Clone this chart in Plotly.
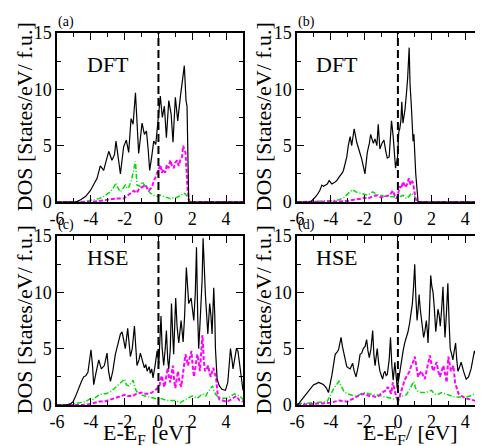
import plotly.graph_objects as go

# ---------------- data (E in eV, DOS in States/eV/f.u.) ----------------
a_total = [(-6,0),(-4.9,0),(-4.6,0.2),(-4.3,0.5),(-4.03,1.0),(-3.8,1.6),(-3.63,2.1),(-3.44,3.2),(-3.24,2.8),(-3.1,3.6),(-2.94,4.5),(-2.75,3.7),(-2.6,4.2),(-2.51,5.4),(-2.38,3.8),(-2.25,2.5),(-2.06,4.9),(-1.9,5.5),(-1.76,4.4),(-1.62,7.4),(-1.5,6.9),(-1.36,9.7),(-1.17,4.3),(-0.97,7.0),(-0.83,6.0),(-0.71,6.3),(-0.6,4.5),(-0.52,2.8),(-0.4,4.0),(-0.28,5.4),(-0.16,5.1),(-0.04,7.2),(0.11,9.4),(0.23,7.5),(0.35,8.5),(0.47,5.7),(0.61,9.0),(0.75,7.8),(0.86,5.3),(1.0,9.3),(1.14,7.2),(1.3,9.4),(1.46,11.6),(1.53,12.1),(1.63,9.0),(1.69,8.5),(1.79,0),(5,0)]
a_dd = [(-6,0),(-4.0,0),(-3.5,0.1),(-3.0,0.2),(-2.5,0.3),(-2.06,0.3),(-1.8,0.6),(-1.6,0.8),(-1.46,1.0),(-1.3,0.8),(-1.17,1.1),(-1.0,1.3),(-0.77,1.5),(-0.58,1.0),(-0.4,1.3),(-0.28,1.8),(-0.08,2.5),(0.11,3.3),(0.2,2.6),(0.31,2.9),(0.4,2.6),(0.5,3.3),(0.6,3.0),(0.7,3.7),(0.8,3.2),(0.9,3.0),(1.0,3.5),(1.1,3.7),(1.2,3.2),(1.3,3.8),(1.4,4.0),(1.46,5.0),(1.53,4.6),(1.6,4.4),(1.67,2.5),(1.73,1.0),(1.83,0),(5,0)]
a_dc = [(-6,0),(-4.5,0),(-4.2,0.1),(-3.8,0.2),(-3.5,0.3),(-3.24,0.5),(-3.0,0.7),(-2.84,0.9),(-2.65,1.3),(-2.5,1.7),(-2.38,1.2),(-2.25,0.9),(-2.1,1.2),(-1.96,1.5),(-1.85,1.2),(-1.76,1.3),(-1.6,1.9),(-1.5,2.5),(-1.36,3.6),(-1.27,1.5),(-1.1,1.4),(-0.97,1.8),(-0.85,1.5),(-0.77,1.3),(-0.6,1.0),(-0.48,0.8),(-0.3,0.6),(-0.08,0.5),(0.1,0.6),(0.3,0.5),(0.5,0.4),(0.7,0.3),(0.9,0.4),(1.1,0.4),(1.3,0.6),(1.5,0.8),(1.6,0.7),(1.7,0.5),(1.79,0),(5,0)]

b_total = [(-6,0),(-5.2,0),(-5.0,0.3),(-4.82,0.6),(-4.65,1.0),(-4.52,1.5),(-4.42,1.4),(-4.32,1.5),(-4.2,1.6),(-4.09,1.9),(-3.93,1.6),(-3.8,1.7),(-3.63,1.9),(-3.5,2.2),(-3.44,2.3),(-3.3,2.6),(-3.24,2.8),(-3.04,4.0),(-2.95,5.0),(-2.84,5.8),(-2.75,5.0),(-2.6,6.5),(-2.45,5.3),(-2.3,4.6),(-2.15,3.8),(-1.96,2.5),(-1.82,4.4),(-1.7,5.2),(-1.62,6.0),(-1.5,5.4),(-1.46,5.2),(-1.36,5.6),(-1.25,5.0),(-1.17,6.9),(-1.07,4.7),(-0.95,5.2),(-0.83,5.5),(-0.72,4.5),(-0.63,3.9),(-0.52,4.0),(-0.38,7.2),(-0.28,5.8),(-0.2,4.0),(-0.14,3.0),(-0.02,4.0),(0.05,6.2),(0.11,6.5),(0.18,7.3),(0.23,8.9),(0.3,7.0),(0.35,7.5),(0.42,8.2),(0.5,9.5),(0.58,11.0),(0.67,13.7),(0.72,10.5),(0.8,8.5),(0.9,5.4),(0.95,6.0),(1.06,2.5),(1.2,0),(5,0)]
b_dd = [(-6,0),(-4.5,0),(-3.5,0.05),(-3.0,0.1),(-2.5,0.2),(-2.2,0.3),(-2.0,0.4),(-1.8,0.3),(-1.5,0.5),(-1.3,0.6),(-1.0,0.4),(-0.8,0.5),(-0.5,0.6),(-0.4,0.8),(-0.3,1.0),(-0.2,0.6),(-0.1,0.3),(0.0,0.6),(0.1,1.4),(0.2,1.2),(0.3,1.8),(0.45,1.3),(0.55,1.6),(0.65,2.1),(0.75,1.5),(0.85,1.8),(0.9,1.7),(1.05,0.3),(1.15,0),(5,0)]
b_dc = [(-6,0),(-5.2,0),(-4.5,0.1),(-4.0,0.1),(-3.5,0.2),(-3.2,0.4),(-3.0,0.7),(-2.85,0.9),(-2.7,1.1),(-2.5,0.9),(-2.3,0.8),(-2.0,0.7),(-1.8,0.6),(-1.6,0.8),(-1.5,0.9),(-1.3,0.7),(-1.0,0.6),(-0.8,0.5),(-0.5,0.5),(-0.2,0.4),(0.0,0.4),(0.15,0.5),(0.3,0.6),(0.5,0.3),(0.65,0.5),(0.8,0.8),(0.9,0.6),(1.0,0.5),(1.15,0),(5,0)]

c_total = [(-6,0),(-5.5,0),(-5.21,0.1),(-5.05,0.3),(-4.92,0.7),(-4.72,1.5),(-4.55,2.1),(-4.42,2.5),(-4.3,2.6),(-4.17,2.9),(-3.99,4.9),(-3.9,3.5),(-3.83,1.8),(-3.7,2.8),(-3.53,4.0),(-3.38,3.2),(-3.2,3.5),(-3.04,4.6),(-2.95,3.0),(-2.84,2.1),(-2.7,3.0),(-2.55,4.5),(-2.4,5.5),(-2.25,6.3),(-2.15,6.5),(-2.05,5.8),(-1.96,5.0),(-1.82,6.8),(-1.66,4.3),(-1.55,5.0),(-1.42,7.0),(-1.27,3.5),(-1.15,4.0),(-1.07,4.6),(-0.95,3.8),(-0.83,3.3),(-0.75,3.6),(-0.67,3.0),(-0.55,3.4),(-0.48,2.8),(-0.4,3.2),(-0.32,2.4),(-0.2,3.5),(-0.08,4.8),(0.02,3.6),(0.08,5.5),(0.15,7.9),(0.22,5.0),(0.31,3.5),(0.4,5.0),(0.47,6.6),(0.55,4.0),(0.61,3.2),(0.7,5.0),(0.77,9.0),(0.85,6.0),(0.9,4.5),(1.02,9.5),(1.1,7.0),(1.2,5.5),(1.34,7.5),(1.46,5.6),(1.55,8.0),(1.65,12.2),(1.72,10.5),(1.79,9.0),(1.93,9.5),(2.0,8.5),(2.09,7.5),(2.18,10.0),(2.25,14.0),(2.32,8.0),(2.38,5.0),(2.45,7.0),(2.52,9.0),(2.58,11.0),(2.64,14.8),(2.7,12.0),(2.78,9.7),(2.85,8.0),(2.92,6.3),(3.03,9.0),(3.1,8.0),(3.17,6.3),(3.27,10.4),(3.33,8.0),(3.37,5.0),(3.47,2.3),(3.6,1.7),(3.75,1.4),(3.96,1.3),(4.1,2.0),(4.2,3.5),(4.26,5.0),(4.35,4.0),(4.41,3.2),(4.5,4.0),(4.61,5.0),(4.7,4.8),(4.81,3.5),(4.9,2.5),(5.0,1.3)]
c_dd = [(-6,0),(-4.5,0),(-4.0,0.1),(-3.5,0.3),(-3.2,0.3),(-3.0,0.4),(-2.7,0.5),(-2.5,0.6),(-2.2,0.8),(-2.0,0.9),(-1.8,0.8),(-1.5,0.8),(-1.3,1.0),(-1.0,1.1),(-0.8,1.0),(-0.5,1.0),(-0.3,1.2),(-0.2,1.3),(0.05,1.6),(0.12,2.2),(0.2,2.6),(0.28,2.0),(0.35,1.6),(0.45,2.4),(0.55,3.3),(0.62,2.5),(0.7,2.0),(0.78,2.8),(0.85,3.5),(0.93,2.2),(1.0,1.5),(1.08,2.3),(1.15,3.0),(1.25,2.0),(1.35,1.6),(1.45,2.8),(1.6,4.5),(1.68,4.0),(1.75,3.5),(1.85,4.2),(1.95,4.8),(2.02,3.5),(2.1,2.5),(2.2,3.5),(2.3,4.5),(2.38,3.8),(2.45,3.0),(2.52,4.5),(2.6,6.2),(2.68,4.0),(2.75,3.0),(2.85,3.2),(2.95,3.5),(3.02,2.8),(3.1,2.5),(3.18,3.0),(3.25,3.3),(3.32,2.8),(3.4,2.5),(3.5,1.0),(3.6,0.5),(3.8,0.4),(4.0,0.3),(4.2,0.4),(4.3,0.5),(4.45,0.7),(4.6,0.8),(4.7,0.6),(4.8,0.4),(5.0,0.3)]
c_dc = [(-6,0),(-5.3,0),(-5.0,0.1),(-4.6,0.2),(-4.3,0.3),(-4.0,0.6),(-3.85,0.5),(-3.7,0.7),(-3.5,0.9),(-3.3,1.0),(-3.1,1.0),(-2.8,1.2),(-2.65,1.4),(-2.5,1.6),(-2.35,1.8),(-2.1,2.1),(-2.0,2.3),(-1.9,1.8),(-1.75,1.7),(-1.6,2.0),(-1.5,2.2),(-1.4,1.6),(-1.3,1.2),(-1.15,1.1),(-1.0,0.9),(-0.8,0.8),(-0.5,0.7),(-0.3,0.6),(0.0,0.5),(0.1,0.6),(0.3,0.5),(0.5,0.4),(0.7,0.4),(1.0,0.4),(1.15,0.3),(1.3,0.2),(1.5,0.4),(1.7,0.6),(1.85,0.7),(2.0,0.8),(2.15,0.7),(2.3,0.6),(2.45,0.8),(2.6,1.0),(2.7,0.9),(2.8,0.8),(2.9,1.1),(3.0,1.3),(3.1,1.4),(3.2,1.7),(3.3,1.2),(3.4,0.9),(3.55,0.7),(3.7,0.6),(4.0,0.6),(4.2,0.7),(4.4,0.9),(4.5,1.0),(4.65,0.9),(4.8,0.8),(5.0,0.5)]

d_total = [(-6,0),(-5.9,0.1),(-5.75,0.4),(-5.6,0.7),(-5.45,1.0),(-5.31,1.3),(-5.15,1.6),(-5.01,1.8),(-4.85,1.9),(-4.72,2.0),(-4.55,1.9),(-4.42,1.8),(-4.25,1.5),(-4.13,1.1),(-3.93,2.6),(-3.83,3.6),(-3.73,4.5),(-3.62,4.7),(-3.53,4.9),(-3.45,5.5),(-3.38,6.0),(-3.3,5.2),(-3.2,4.6),(-3.1,3.9),(-3.04,3.4),(-2.95,3.3),(-2.84,3.2),(-2.75,3.5),(-2.69,3.7),(-2.6,3.0),(-2.49,2.5),(-2.35,3.5),(-2.25,4.5),(-2.15,4.6),(-2.06,5.0),(-1.95,5.2),(-1.86,5.8),(-1.78,4.8),(-1.7,4.2),(-1.6,5.0),(-1.5,6.6),(-1.43,4.5),(-1.36,3.5),(-1.3,4.2),(-1.23,5.0),(-1.15,3.8),(-1.07,3.0),(-0.98,2.6),(-0.91,2.3),(-0.84,2.8),(-0.77,3.0),(-0.7,2.6),(-0.63,2.7),(-0.52,4.0),(-0.44,6.0),(-0.36,3.5),(-0.28,2.2),(-0.18,3.8),(-0.1,2.5),(-0.04,1.5),(0.04,2.2),(0.11,3.0),(0.2,3.8),(0.31,4.8),(0.4,5.5),(0.5,6.0),(0.6,6.5),(0.7,7.3),(0.78,8.0),(0.86,9.0),(0.93,10.5),(1.0,12.5),(1.07,9.5),(1.14,7.5),(1.2,8.5),(1.26,9.8),(1.33,8.5),(1.4,7.5),(1.47,6.8),(1.53,6.0),(1.6,6.5),(1.69,7.5),(1.75,6.5),(1.79,5.5),(1.87,8.0),(1.95,11.5),(2.02,10.5),(2.09,10.0),(2.17,8.5),(2.25,6.5),(2.32,7.5),(2.38,8.5),(2.45,8.0),(2.52,7.0),(2.6,8.5),(2.68,10.5),(2.74,8.0),(2.8,6.0),(2.88,8.0),(2.97,10.8),(3.04,7.5),(3.11,5.0),(3.2,4.5),(3.27,4.0),(3.35,4.8),(3.43,5.5),(3.5,4.0),(3.57,3.0),(3.65,3.3),(3.76,3.8),(3.9,3.0),(4.06,2.3),(4.2,2.5),(4.35,3.2),(4.45,4.0),(4.55,4.8),(4.62,4.5),(4.69,4.2),(4.77,3.8),(4.85,3.0),(4.92,2.5),(5.0,2.0)]
d_dd = [(-6,0),(-5.5,0.05),(-5.0,0.1),(-4.5,0.15),(-4.0,0.2),(-3.75,0.3),(-3.5,0.4),(-3.25,0.35),(-3.0,0.3),(-2.75,0.5),(-2.5,0.7),(-2.25,0.9),(-2.0,1.0),(-1.85,0.9),(-1.7,0.8),(-1.5,0.8),(-1.3,0.7),(-1.15,0.8),(-1.0,1.0),(-0.85,1.2),(-0.7,1.3),(-0.6,1.6),(-0.5,1.3),(-0.4,1.0),(-0.3,2.0),(-0.2,1.2),(-0.1,0.7),(0.05,0.5),(0.15,1.0),(0.3,1.8),(0.4,2.2),(0.5,2.5),(0.6,2.8),(0.7,3.0),(0.8,3.5),(0.9,3.8),(1.0,4.3),(1.1,3.3),(1.2,2.5),(1.3,2.8),(1.4,3.0),(1.5,2.6),(1.6,2.3),(1.7,3.0),(1.8,3.8),(1.9,4.4),(2.0,3.6),(2.1,3.0),(2.2,3.4),(2.3,3.8),(2.4,3.0),(2.5,2.5),(2.6,3.0),(2.7,3.5),(2.8,2.8),(2.9,2.0),(3.0,4.3),(3.08,3.5),(3.15,3.0),(3.25,3.3),(3.3,3.5),(3.4,2.0),(3.5,1.5),(3.6,1.0),(3.8,0.8),(4.0,0.6),(4.3,0.5),(4.5,0.4),(4.8,0.3),(5.0,0.2)]
d_dc = [(-6,0.1),(-5.5,0.15),(-5.0,0.2),(-4.6,0.25),(-4.2,0.3),(-4.05,0.8),(-3.9,1.3),(-3.8,1.5),(-3.65,1.8),(-3.5,2.1),(-3.35,1.6),(-3.2,1.2),(-3.0,1.0),(-2.8,0.9),(-2.6,0.8),(-2.4,0.8),(-2.2,1.0),(-2.0,1.1),(-1.8,1.0),(-1.5,0.9),(-1.3,0.9),(-1.0,0.8),(-0.8,0.8),(-0.5,0.7),(-0.3,0.6),(-0.1,0.5),(0.1,0.7),(0.3,0.8),(0.5,0.9),(0.7,1.4),(0.85,1.8),(0.95,2.1),(1.05,1.5),(1.2,1.2),(1.4,1.1),(1.6,1.1),(1.8,1.2),(2.0,1.3),(2.15,1.0),(2.3,0.9),(2.45,1.0),(2.6,1.1),(2.8,1.0),(3.0,0.9),(3.2,0.8),(3.4,0.7),(3.7,0.7),(4.0,0.7),(4.3,0.8),(4.6,1.0),(4.8,0.8),(5.0,0.6)]

panel_labels = ["(a)", "(b)", "(c)", "(d)"]
method_labels = ["DFT", "DFT", "HSE", "HSE"]
x_titles = ["E-E<sub>F</sub> [eV]", "E-E<sub>F</sub>/ [eV]"]
y_title = "DOS [States/eV/ f.u.]"
x_tick_vals = [-6, -4, -2, 0, 2, 4]
x_tick_text = ["-6", "-4", "-2", "0", "2", "4"]
x_minor_vals = [-5, -3, -1, 1, 3, 5]
y_tick_vals = [0, 5, 10, 15]
y_tick_text = ["0", "5", "10", "15"]
y_minor_vals = [2.5, 7.5, 12.5]
x_range = [-6, 5]
y_range = [0, 15]
fermi_level = 0.0

panels = [(a_total, a_dd, a_dc), (b_total, b_dd, b_dc), (c_total, c_dd, c_dc), (d_total, d_dd, d_dc)]

# ---------------- layout geometry ----------------
# page pixel positions are converted to figure coords; the page body has an 8px margin
OFF = 8
W, H = 475, 438
FONT = "Liberation Serif"


def px(x):
    return (x - OFF) / W


def py(y):
    return 1 - (y - OFF) / H


xdom = [[px(57), px(243)], [px(297), px(482)]]
ydom = [[py(202), py(33)], [py(405), py(236)]]

fig = go.Figure()

styles = [
    dict(color="black", width=1.2),
    dict(color="#ff00ff", width=2, dash="4px,2px"),
    dict(color="#00dd00", width=1.5, dash="5px,2px,1px,2px"),
]

layout_axes = {}
for i, series in enumerate(panels):
    n = i + 1
    xa = "x" if n == 1 else f"x{n}"
    ya = "y" if n == 1 else f"y{n}"
    for pts, st in zip(series[::-1], styles[::-1]):
        fig.add_trace(go.Scatter(
            x=[p[0] for p in pts], y=[p[1] for p in pts],
            mode="lines", line=st, xaxis=xa, yaxis=ya,
            showlegend=False, hoverinfo="skip"))
    # Fermi level dashed line
    fig.add_trace(go.Scatter(
        x=[fermi_level, fermi_level], y=y_range, mode="lines",
        line=dict(color="black", width=2, dash="8px,4px"),
        xaxis=xa, yaxis=ya, showlegend=False, hoverinfo="skip"))

    col, row = i % 2, i // 2
    common = dict(
        ticks="inside", ticklen=7, tickwidth=1.3, tickcolor="black",
        showline=True, linewidth=1.5, linecolor="black", mirror="ticks",
        showgrid=False, zeroline=False, automargin=False,
        tickfont=dict(family=FONT, size=18, color="black"),
    )
    layout_axes["xaxis" if n == 1 else f"xaxis{n}"] = dict(
        domain=xdom[col], anchor=ya, range=x_range,
        tickmode="array", tickvals=x_tick_vals, ticktext=x_tick_text,
        minor=dict(tickmode="array", tickvals=x_minor_vals, ticks="inside",
                   ticklen=4, tickwidth=1.2, tickcolor="black"),
        **common)
    layout_axes["yaxis" if n == 1 else f"yaxis{n}"] = dict(
        domain=ydom[row], anchor=xa, range=y_range,
        tickmode="array", tickvals=y_tick_vals, ticktext=y_tick_text,
        minor=dict(tickmode="array", tickvals=y_minor_vals, ticks="inside",
                   ticklen=4, tickwidth=1.2, tickcolor="black"),
        **common)

annotations = []
label_x = [56, 296]
label_y = [22, 225]
method_x = [108, 337]
method_y = [64, 257]
ytitle_x = [24, 263]
xtitle_x = [147, 410]
for i in range(4):
    col, row = i % 2, i // 2
    annotations.append(dict(
        text=panel_labels[i], xref="paper", yref="paper",
        x=px(label_x[col]), y=py(label_y[row]), xanchor="left", yanchor="middle",
        showarrow=False, font=dict(family=FONT, size=14, color="black")))
    annotations.append(dict(
        text=method_labels[i], xref="paper", yref="paper",
        x=px(method_x[col]), y=py(method_y[row]), xanchor="center", yanchor="middle",
        showarrow=False, font=dict(family=FONT, size=22, color="black")))
    annotations.append(dict(
        text=y_title, xref="paper", yref="paper", textangle=-90,
        x=px(ytitle_x[col]), y=(ydom[row][0] + ydom[row][1]) / 2,
        xanchor="center", yanchor="middle",
        showarrow=False, font=dict(family=FONT, size=22, color="black")))
for col in range(2):
    annotations.append(dict(
        text=x_titles[col], xref="paper", yref="paper",
        x=px(xtitle_x[col]), y=py(434), xanchor="center", yanchor="middle",
        showarrow=False, font=dict(family=FONT, size=22, color="black")))

fig.update_layout(
    width=W, height=H,
    margin=dict(l=0, r=0, t=0, b=0),
    paper_bgcolor="white", plot_bgcolor="white",
    annotations=annotations,
    **layout_axes,
)

fig.write_html("out.html")
